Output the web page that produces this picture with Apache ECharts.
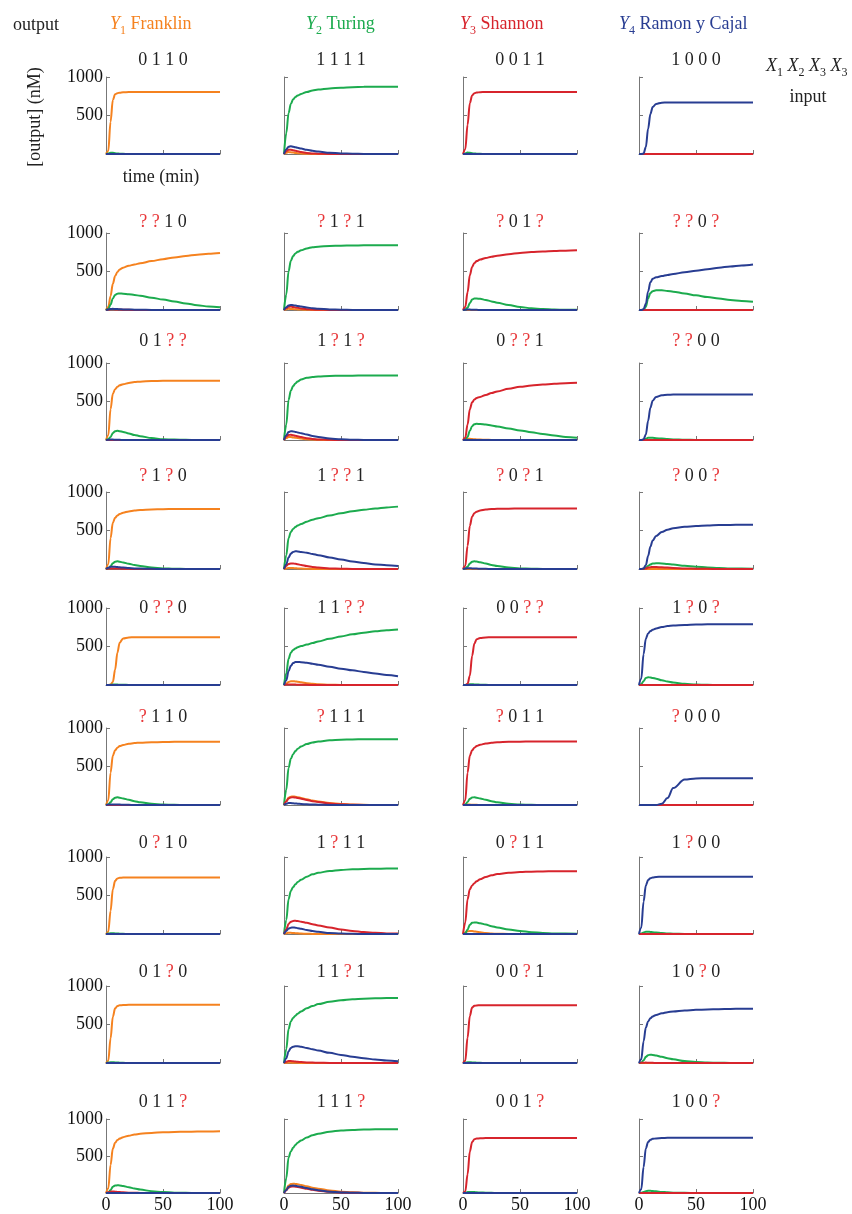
<!DOCTYPE html>
<html><head><meta charset="utf-8">
<script src="https://cdn.jsdelivr.net/npm/echarts@6/dist/echarts.min.js"></script>
<style>html,body{margin:0;padding:0;background:#fff}#c{width:852px;height:1214px}</style>
</head><body><div id="c"></div>
<script>
// time samples (min)
const T = [0,2,4,6,8,10,12,15,20,25,30,40,50,60,70,80,90,100];
const Z = [0,0,0,0,0,0,0,0,0,0,0,0,0,0,0,0,0,0];

const columnNames = ['Franklin','Turing','Shannon','Ramon y Cajal'];
const inputs = [
  ['0110','1111','0011','1000'],
  ['??10','?1?1','?01?','??0?'],
  ['01??','1?1?','0??1','??00'],
  ['?1?0','1??1','?0?1','?00?'],
  ['0??0','11??','00??','1?0?'],
  ['?110','?111','?011','?000'],
  ['0?10','1?11','0?11','1?00'],
  ['01?0','11?1','00?1','10?0'],
  ['011?','111?','001?','100?']
];
const yTicks = [500, 1000];
const xTicks = [0, 50, 100];

// Y1 Franklin (orange) [row][col]
const Y1 = [
 [[0,40,420,700,775,790,797,802,805,805,805,805,805,805,805,805,805,805],
  [0,15,25,22,18,14,10,6,3,1,0,0,0,0,0,0,0,0], Z, Z],
 [[0,40,180,340,440,495,525,550,575,592,607,635,660,682,702,718,730,740],
  [0,10,15,14,12,10,8,5,3,1,0,0,0,0,0,0,0,0], Z, Z],
 [[0,60,400,600,660,690,710,725,740,752,758,765,768,770,770,770,770,770],
  [0,25,38,38,34,30,25,18,10,5,2,0,0,0,0,0,0,0],
  [0,10,15,15,13,10,8,5,3,1,0,0,0,0,0,0,0,0], Z],
 [[0,60,400,600,665,695,715,732,748,760,766,773,777,779,780,780,780,780],
  [0,8,14,14,12,10,8,6,3,1,0,0,0,0,0,0,0,0], Z, Z],
 [[0,0,5,40,200,420,550,605,618,620,620,620,620,620,620,620,620,620],
  [0,20,40,48,50,47,42,35,24,15,9,3,1,0,0,0,0,0], Z, Z],
 [[0,60,420,640,710,745,765,780,795,805,810,815,818,820,820,820,820,820],
  [0,50,95,108,110,108,102,92,75,58,45,25,12,5,2,0,0,0],
  [0,3,5,5,4,3,2,1,0,0,0,0,0,0,0,0,0,0], Z],
 [[0,30,300,580,690,722,730,733,735,735,735,735,735,735,735,735,735,735],
  [0,10,15,15,13,11,9,6,3,1,0,0,0,0,0,0,0,0],
  [0,20,35,40,38,34,30,22,12,6,3,1,0,0,0,0,0,0], Z],
 [[0,30,320,600,710,740,750,753,755,755,755,755,755,755,755,755,755,755],
  [0,3,5,5,4,3,2,1,0,0,0,0,0,0,0,0,0,0], Z, Z],
 [[0,60,380,600,680,715,735,755,775,790,800,812,820,825,828,830,832,833],
  [0,50,100,120,125,123,118,108,90,72,58,34,18,9,4,2,1,0], Z, Z]
];

// Y2 Turing (green)
const Y2 = [
 [[0,5,15,15,10,6,4,2,1,0,0,0,0,0,0,0,0,0],
  [0,270,530,650,710,740,760,780,805,825,837,852,862,868,872,873,873,873],
  [0,8,18,15,10,6,4,2,1,0,0,0,0,0,0,0,0,0], Z],
 [[0,15,70,150,195,212,215,212,205,195,185,160,135,110,85,62,45,35],
  [0,200,500,640,700,735,755,775,800,815,823,832,836,838,840,840,840,840],
  [0,5,30,90,135,150,150,145,130,112,95,65,40,22,12,6,3,2],
  [0,0,5,40,150,220,245,255,255,248,238,215,190,168,148,130,118,108]],
 [[0,10,40,90,115,120,115,105,85,65,50,25,10,5,2,0,0,0],
  [0,200,520,640,700,735,760,785,808,818,825,832,835,836,837,837,837,837],
  [0,5,40,120,180,205,210,208,200,188,175,150,125,100,78,58,40,28],
  [0,0,3,15,28,30,28,24,18,12,8,3,1,0,0,0,0,0]],
 [[0,8,35,75,95,100,95,85,68,52,40,20,8,3,1,0,0,0],
  [0,180,400,480,520,545,565,585,615,640,660,695,725,750,770,785,800,810],
  [0,5,30,70,95,100,96,88,70,52,38,18,7,3,1,0,0,0],
  [0,0,3,15,40,60,70,75,72,65,58,42,30,20,13,8,5,3]],
 [[0,0,2,5,6,5,4,3,1,0,0,0,0,0,0,0,0,0],
  [0,150,340,420,455,475,490,505,525,545,565,600,630,658,680,698,712,722],
  [0,0,5,10,10,8,6,4,2,1,0,0,0,0,0,0,0,0],
  [0,10,50,90,100,98,92,82,62,45,32,15,6,2,0,0,0,0]],
 [[0,8,35,75,95,100,95,85,68,50,36,16,6,2,0,0,0,0],
  [0,200,480,600,660,700,730,760,792,812,825,840,848,852,854,855,855,855],
  [0,8,40,80,98,100,95,85,68,50,36,16,6,2,0,0,0,0], Z],
 [[0,5,10,10,8,6,4,2,1,0,0,0,0,0,0,0,0,0],
  [0,180,450,560,610,645,675,705,745,775,795,818,832,840,845,848,850,850],
  [0,10,60,120,145,150,148,140,122,102,85,58,38,24,14,8,5,3],
  [0,5,20,28,30,27,23,18,12,7,4,1,0,0,0,0,0,0]],
 [[0,5,10,10,8,6,4,2,1,0,0,0,0,0,0,0,0,0],
  [0,180,440,540,585,615,640,670,710,740,765,795,815,828,836,840,843,845],
  [0,5,10,10,8,6,4,2,1,0,0,0,0,0,0,0,0,0],
  [0,5,35,80,102,108,105,97,80,62,48,26,13,6,3,1,0,0]],
 [[0,8,40,85,100,105,102,95,78,60,46,25,12,5,2,0,0,0],
  [0,200,480,560,610,650,680,710,750,780,800,828,845,853,858,860,862,863],
  [0,5,12,15,14,12,10,7,4,2,1,0,0,0,0,0,0,0],
  [0,3,15,25,30,30,27,22,15,9,5,2,0,0,0,0,0,0]]
];

// Y3 Shannon (red)
const Y3 = [
 [Z,
  [0,35,55,55,50,42,35,25,14,7,4,1,0,0,0,0,0,0],
  [0,60,380,660,760,790,798,803,805,805,805,805,805,805,805,805,805,805], Z],
 [[0,5,10,10,8,6,5,4,2,1,0,0,0,0,0,0,0,0],
  [0,25,42,45,40,34,28,20,11,6,3,1,0,0,0,0,0,0],
  [0,40,230,450,560,610,635,655,675,692,705,725,740,752,760,766,771,775], Z],
 [Z,
  [0,45,65,68,62,55,48,38,24,14,8,2,0,0,0,0,0,0],
  [0,30,200,400,490,525,545,560,585,610,630,665,690,708,720,730,737,742], Z],
 [[0,5,8,8,7,6,5,4,2,1,0,0,0,0,0,0,0,0],
  [0,40,65,72,72,68,62,52,38,26,18,7,3,1,0,0,0,0],
  [0,40,300,560,680,725,745,760,772,778,781,784,785,785,785,785,785,785],
  [0,0,2,8,18,24,26,25,22,18,14,8,4,2,1,0,0,0]],
 [Z,
  [0,5,8,8,6,5,4,3,2,1,0,0,0,0,0,0,0,0],
  [0,0,15,120,380,540,595,612,618,620,620,620,620,620,620,620,620,620], Z],
 [Z,
  [0,45,85,98,100,97,92,82,66,50,38,20,9,4,1,0,0,0],
  [0,60,420,640,710,745,765,782,798,808,814,820,823,825,825,825,825,825], Z],
 [Z,
  [0,60,130,160,170,172,168,160,145,128,112,85,60,40,25,15,8,5],
  [0,150,450,580,630,660,685,710,740,762,778,795,805,810,813,815,815,815], Z],
 [Z,
  [0,15,25,25,22,19,16,12,8,5,3,1,0,0,0,0,0,0],
  [0,30,330,610,720,742,748,750,750,750,750,750,750,750,750,750,750,750],
  [0,2,4,5,4,3,2,1,0,0,0,0,0,0,0,0,0,0]],
 [[0,10,18,20,18,15,12,9,5,3,1,0,0,0,0,0,0,0],
  [0,35,70,85,88,85,80,72,57,43,32,16,7,3,1,0,0,0],
  [0,20,250,560,690,725,735,740,742,743,743,743,743,743,743,743,743,743], Z]
];

// Y4 Ramon y Cajal (blue)
const Y4 = [
 [Z,
  [0,60,95,100,95,88,80,70,55,42,32,16,7,3,1,0,0,0], Z,
  [0,0,5,90,330,520,610,650,667,670,670,670,670,670,670,670,670,670]],
 [[0,8,14,15,14,12,10,8,6,4,3,1,0,0,0,0,0,0],
  [0,35,60,65,62,58,52,44,32,23,16,7,3,1,0,0,0,0],
  [0,3,5,5,4,3,2,1,0,0,0,0,0,0,0,0,0,0],
  [0,0,10,80,240,360,405,425,440,455,468,490,510,530,550,565,578,590]],
 [[0,3,5,5,4,3,2,1,0,0,0,0,0,0,0,0,0,0],
  [0,60,105,115,112,105,98,88,70,52,40,20,9,4,1,0,0,0], Z,
  [0,0,10,70,250,420,510,560,580,588,590,590,590,590,590,590,590,590]],
 [[0,15,28,30,28,25,22,18,12,8,5,2,0,0,0,0,0,0],
  [0,60,150,200,222,230,228,222,210,195,180,150,122,98,78,60,48,40],
  [0,5,10,10,8,6,5,3,2,1,0,0,0,0,0,0,0,0],
  [0,0,8,50,170,290,370,430,480,510,528,548,558,565,570,573,575,576]],
 [Z,
  [0,60,180,250,285,298,300,297,288,275,262,238,212,190,170,150,130,115], Z,
  [0,80,400,600,670,700,718,735,752,765,772,780,785,788,790,790,790,790]],
 [[0,5,8,8,7,6,5,4,2,1,0,0,0,0,0,0,0,0],
  [0,15,25,25,22,20,17,13,9,6,4,1,0,0,0,0,0,0], Z,
  [0,0,0,0,0,0,0,1,15,90,220,330,345,347,347,347,347,347]],
 [Z,
  [0,40,70,82,85,82,76,68,52,38,28,12,5,2,0,0,0,0], Z,
  [0,80,420,630,700,725,735,740,744,745,745,745,745,745,745,745,745,745]],
 [Z,
  [0,60,150,195,212,218,216,210,195,178,162,132,105,82,62,45,32,22], Z,
  [0,50,280,460,540,580,605,625,645,660,670,683,690,695,699,702,704,705]],
 [Z,
  [0,40,85,98,100,97,92,83,66,50,38,18,8,3,1,0,0,0], Z,
  [0,50,350,600,690,720,732,738,742,745,745,745,745,745,745,745,745,745]]
];

// ---------- layout & style ----------
const COLORS = ['#f5821f', '#1cab4e', '#d7242c', '#283d92'];
const QCOLOR = '#e8383a';
const FONT = '"Liberation Serif", "DejaVu Serif", serif';
const LEFTS = [106, 284, 463, 639];
const W = 114, H = 77;
const TOPS = [77, 233, 363, 492, 608, 728, 857, 986, 1119];
const TITLE_Y = [60, 222, 341, 476, 608, 717, 843, 972, 1102];
const AXIS_COLOR = '#777';

const grids = [], xAxes = [], yAxes = [], series = [], graphics = [];
const SETS = [Y1, Y2, Y3, Y4];

for (let r = 0; r < 9; r++) {
  for (let c = 0; c < 4; c++) {
    const idx = r * 4 + c;
    grids.push({left: LEFTS[c], top: TOPS[r], width: W, height: H, containLabel: false});
    xAxes.push({
      gridIndex: idx, type: 'value', min: xTicks[0], max: xTicks[xTicks.length-1], interval: 50,
      axisLine: {show: true, onZero: false, lineStyle: {color: AXIS_COLOR, width: 1}},
      axisTick: {show: true, inside: true, length: 4, lineStyle: {color: AXIS_COLOR}},
      splitLine: {show: false},
      axisLabel: {show: r === 8, margin: 3, color: '#111', fontFamily: FONT, fontSize: 18,
        showMinLabel: true, showMaxLabel: true}
    });
    yAxes.push({
      gridIndex: idx, type: 'value', min: 0, max: yTicks[yTicks.length-1], interval: 500,
      axisLine: {show: true, onZero: false, lineStyle: {color: AXIS_COLOR, width: 1}},
      axisTick: {show: true, inside: true, length: 4, lineStyle: {color: AXIS_COLOR}},
      splitLine: {show: false},
      axisLabel: {show: c === 0, margin: 3, color: '#111', fontFamily: FONT, fontSize: 18,
        formatter: v => (yTicks.indexOf(v) >= 0 ? String(v) : '')}
    });
    SETS.forEach((S, k) => {
      const vals = S[r][c];
      series.push({
        type: 'line', xAxisIndex: idx, yAxisIndex: idx,
        data: T.map((t, i) => [t, vals[i]]),
        showSymbol: false, symbol: 'none', smooth: 0.35, smoothMonotone: 'x',
        lineStyle: {width: 2, color: COLORS[k]}, itemStyle: {color: COLORS[k]},
        silent: true, z: 2 + k
      });
    });
    // panel title
    const txt = inputs[r][c].split('').map(ch => ch === '?' ? '{q|?}' : '{k|' + ch + '}').join(' ');
    graphics.push({
      type: 'text', x: LEFTS[c] + W / 2, y: TITLE_Y[r], silent: true,
      style: {text: txt, align: 'center', verticalAlign: 'middle', fill: '#222',
        font: '18px ' + FONT,
        rich: {k: {fill: '#222', fontSize: 18, fontFamily: FONT},
               q: {fill: QCOLOR, fontSize: 18, fontFamily: FONT}}}
    });
  }
}

// column headers
const HEAD_X = [110, 306, 460, 619];
columnNames.forEach((n, i) => {
  graphics.push({
    type: 'text', x: HEAD_X[i], y: 24, silent: true,
    style: {text: '{i|Y}{s|' + (i + 1) + '}{n| ' + n + '}', align: 'left', verticalAlign: 'middle',
      fill: COLORS[i], font: '18px ' + FONT,
      rich: {
        i: {fill: COLORS[i], fontSize: 18, fontStyle: 'italic', fontFamily: FONT, lineHeight: 26, verticalAlign: 'middle'},
        s: {fill: COLORS[i], fontSize: 12, fontFamily: FONT, lineHeight: 12, verticalAlign: 'bottom'},
        n: {fill: COLORS[i], fontSize: 18, fontFamily: FONT, lineHeight: 26, verticalAlign: 'middle'}
      }}
  });
});

graphics.push({type: 'text', x: 13, y: 25, silent: true,
  style: {text: 'output', fill: '#222', font: '18px ' + FONT, align: 'left', verticalAlign: 'middle'}});
graphics.push({type: 'text', x: 35, y: 117, rotation: Math.PI / 2, silent: true,
  style: {text: '[output] (nM)', fill: '#222', font: '18px ' + FONT, align: 'center', verticalAlign: 'middle'}});
graphics.push({type: 'text', x: 161, y: 177, silent: true,
  style: {text: 'time (min)', fill: '#222', font: '18px ' + FONT, align: 'center', verticalAlign: 'middle'}});
graphics.push({type: 'text', x: 766, y: 66, silent: true,
  style: {text: '{i|X}{s|1}{n| }{i|X}{s|2}{n| }{i|X}{s|3}{n| }{i|X}{s|3}', align: 'left', verticalAlign: 'middle',
    fill: '#222', font: '18px ' + FONT,
    rich: {
      i: {fill: '#222', fontSize: 18, fontStyle: 'italic', fontFamily: FONT, lineHeight: 26, verticalAlign: 'middle'},
      s: {fill: '#222', fontSize: 12, fontFamily: FONT, lineHeight: 12, verticalAlign: 'bottom'},
      n: {fill: '#222', fontSize: 18, fontFamily: FONT, lineHeight: 26, verticalAlign: 'middle'}
    }}});
graphics.push({type: 'text', x: 808, y: 97, silent: true,
  style: {text: 'input', fill: '#222', font: '18px ' + FONT, align: 'center', verticalAlign: 'middle'}});

const chart = echarts.init(document.getElementById('c'), null, {renderer: 'canvas'});
chart.setOption({
  animation: false,
  backgroundColor: '#fff',
  grid: grids, xAxis: xAxes, yAxis: yAxes, series: series, graphic: graphics
});
</script></body></html>
